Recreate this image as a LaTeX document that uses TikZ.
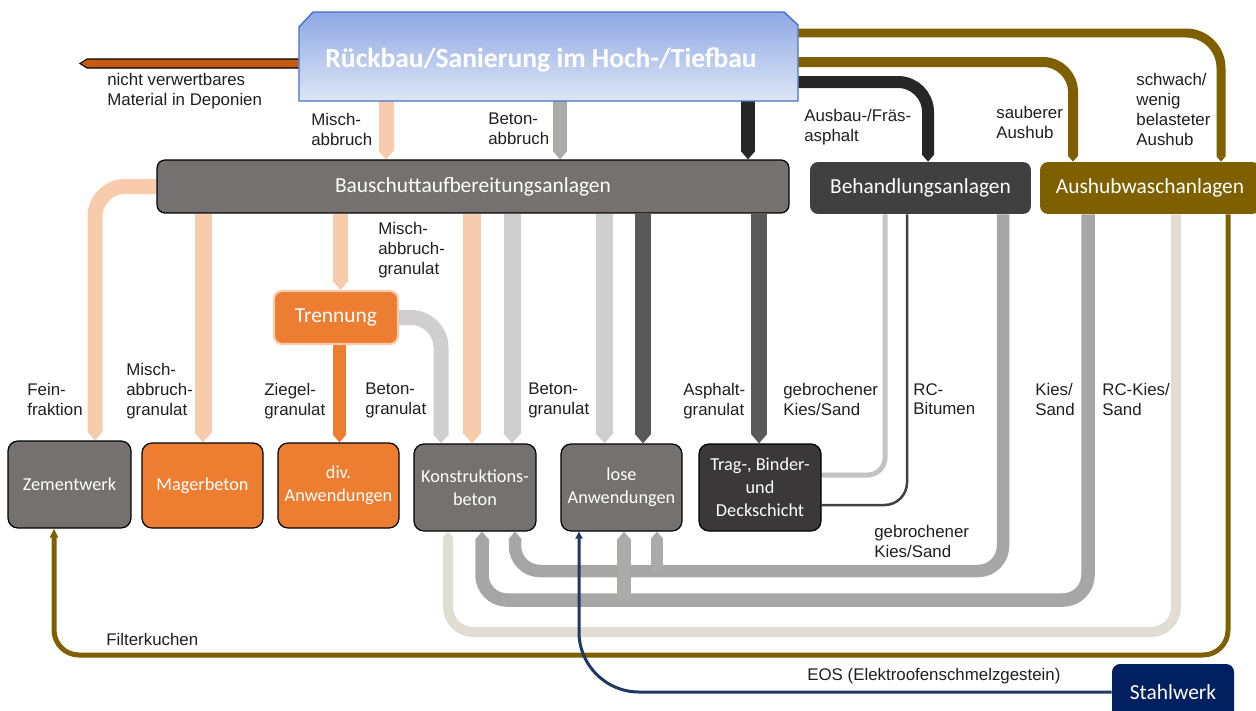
\documentclass[tikz,border=0pt]{standalone}
\usepackage{fontspec}
\setmainfont{Liberation Sans}
\newfontfamily\calfont{Carlito}
\usetikzlibrary{arrows.meta}
\definecolor{peach}{HTML}{F8CBAD}
\definecolor{orng}{HTML}{ED7D31}
\definecolor{boxgrey}{HTML}{767171}
\definecolor{lgrey}{HTML}{D0CECE}
\definecolor{mgrey}{HTML}{AEAAAA}
\definecolor{dgrey}{HTML}{595959}
\definecolor{vdark}{HTML}{262626}
\definecolor{behgrey}{HTML}{404040}
\definecolor{brwn}{HTML}{7F6000}
\definecolor{tragdark}{HTML}{3A3838}
\definecolor{navy}{HTML}{002060}
\definecolor{eosline}{HTML}{203864}
\definecolor{loopgrey}{HTML}{A6A6A6}
\definecolor{branchgrey}{HTML}{AEAAAA}
\definecolor{thinlgrey}{HTML}{C4C2C2}
\definecolor{beige}{HTML}{E2DDD3}
\definecolor{rust}{HTML}{C55A11}
\definecolor{srcborder}{HTML}{4472C4}
\definecolor{srctop}{RGB}{143,168,228}
\definecolor{srcbot}{RGB}{222,230,245}
\pgfdeclarelayer{bg}
\pgfsetlayers{bg,main}
\begin{document}
\begin{tikzpicture}[x=0.02cm, y=-0.02cm,
  lab/.style={anchor=north west, inner sep=0pt, align=left, text=black!88,
    font=\fontsize{9.6}{11.3}\selectfont},
  pipe/.style={line width=#1, -{Triangle[width=0pt 1, length=0pt 0.6]}},
  bx/.style={rounded corners=0.2cm, draw=black, line width=0.7pt, text=white,
    inner sep=0pt, align=center, font=\calfont\fontsize{10.4}{13}\selectfont},
  bigbx/.style={rounded corners=0.16cm, text=white, inner sep=0pt, align=center,
    font=\calfont\fontsize{12.2}{14}\selectfont}
]
\useasboundingbox (0,0) rectangle (1256,710);
\clip (0,0) rectangle (1256,710);

% ---------- source box ----------
\path[top color=srctop, bottom color=srcbot, draw=srcborder, line width=0.8pt]
  (299,101) -- (299,27) -- (313,12) -- (784,12) -- (798,25) -- (798,101) -- cycle;
\node[minimum width=9.98cm, minimum height=1.78cm, inner sep=0pt] (src) at (548.5,56.5) {};
\node[font=\calfont\bfseries\fontsize{15.7}{18}\selectfont, text=white, inner sep=0pt] (srct) at (541,60) {Rückbau/Sanierung im Hoch-/Tiefbau};

% ---------- boxes ----------
\node[bigbx, draw=black, line width=0.7pt, fill=boxgrey, minimum width=12.64cm, minimum height=1.06cm] (bau) at (473,186.5) {Bauschuttaufbereitungsanlagen};
\node[bigbx, fill=behgrey, minimum width=4.42cm, minimum height=1.04cm] (beh) at (920.5,188) {Behandlungsanlagen};
\node[bigbx, fill=brwn, minimum width=4.4cm, minimum height=1.04cm] (ausw) at (1150,188) {Aushubwaschanlagen};
\node[bigbx, fill=orng, draw=peach, line width=1.2pt, minimum width=2.48cm, minimum height=1.06cm] (tren) at (336,317.5) {Trennung};
\node[bx, fill=boxgrey, minimum width=2.46cm, minimum height=1.74cm] (zem) at (69.5,484.5) {Zementwerk};
\node[bx, fill=orng, minimum width=2.42cm, minimum height=1.7cm] (mag) at (202.5,485.5) {Magerbeton};
\node[bx, fill=orng, minimum width=2.42cm, minimum height=1.7cm] (div) at (338.5,485.5) {div.\\Anwendungen};
\node[bx, fill=boxgrey, minimum width=2.44cm, minimum height=1.74cm] (kon) at (475,487.5) {Konstruktions-\\beton};
\node[bx, fill=boxgrey, minimum width=2.42cm, minimum height=1.74cm] (los) at (621.5,487.5) {lose\\Anwendungen};
\node[bx, fill=tragdark, minimum width=2.44cm, minimum height=1.74cm] (trag) at (760,487.5) {Trag-, Binder-\\und\\Deckschicht};
\node[bigbx, fill=navy, minimum width=2.44cm, minimum height=1.12cm] (stahl) at (1173,692) {Stahlwerk};

\coordinate (dep) at (80,63.5);
\coordinate (j1) at (657,571);
\coordinate (j2) at (624,600);

\begin{pgfonlayer}{bg}
% to landfill
\draw[black, fill=rust, line width=0.6pt] (src.west |- 0,59) -- (87,59) -- (dep) -- (87,68) -- (src.west |- 0,68);
% from source down
\draw[pipe=0.30cm, peach] (386,0 |- src.south) -- (386,0 |- bau.north);
\draw[pipe=0.28cm, mgrey] (560,0 |- src.south) -- (560,0 |- bau.north);
\draw[pipe=0.28cm, vdark] (748,0 |- src.south) -- (748,0 |- bau.north);
% from source right
\draw[pipe=0.18cm, brwn, rounded corners=0.7cm] (src.east |- 0,33) -| (1221,0 |- ausw.north);
\draw[pipe=0.2cm, brwn, rounded corners=0.6cm] (src.east |- 0,62) -| (1073,0 |- ausw.north);
\draw[pipe=0.24cm, vdark, rounded corners=0.6cm] (src.east |- 0,82) -| (928,0 |- beh.north);
% from Bauschutt
\draw[pipe=0.30cm, peach, rounded corners=0.6cm] (bau.west) -| (95,0 |- zem.north);
\draw[pipe=0.34cm, peach] (203,0 |- bau.south) -- (203,0 |- mag.north);
\draw[pipe=0.30cm, peach] (340.5,0 |- bau.south) -- (340.5,0 |- tren.north);
\draw[pipe=0.26cm, orng] (339.5,0 |- tren.south) -- (339.5,0 |- div.north);
\draw[pipe=0.30cm, lgrey, rounded corners=0.6cm] (tren.east) -| (441,0 |- kon.north);
\draw[pipe=0.36cm, peach] (472,0 |- bau.south) -- (472,0 |- kon.north);
\draw[pipe=0.34cm, lgrey] (512,0 |- bau.south) -- (512,0 |- kon.north);
\draw[pipe=0.34cm, lgrey] (604.5,0 |- bau.south) -- (604.5,0 |- los.north);
\draw[pipe=0.32cm, dgrey] (643,0 |- bau.south) -- (643,0 |- los.north);
\draw[pipe=0.32cm, dgrey] (759,0 |- bau.south) -- (759,0 |- trag.north);
% from Behandlungsanlagen
\draw[line width=0.1cm, thinlgrey, rounded corners=0.35cm] (885,0 |- beh.south) |- (trag.east |- 0,475);
\draw[line width=0.05cm, behgrey, rounded corners=0.45cm] (907,0 |- beh.south) |- (trag.east |- 0,505);
\draw[pipe=0.25cm, loopgrey, rounded corners=0.5cm] (1003,0 |- beh.south) |- (515,571) -- (515,0 |- kon.south);
\draw[pipe=0.25cm, branchgrey] (j1) -- (657,0 |- los.south);
% from Aushubwaschanlagen
\draw[pipe=0.27cm, loopgrey, rounded corners=0.5cm] (1088,0 |- ausw.south) |- (482,600) -- (482,0 |- kon.south);
\draw[pipe=0.27cm, branchgrey] (j2) -- (624,0 |- los.south);
\draw[pipe=0.2cm, beige, rounded corners=0.5cm] (1176,0 |- ausw.south) |- (448,632) -- (448,0 |- kon.south);
\draw[line width=0.1cm, brwn, -{Triangle[width=0.16cm, length=0.18cm]}, rounded corners=0.5cm] (1228,0 |- ausw.south) |- (54,655) -- (54,0 |- zem.south);
% EOS
\draw[line width=0.06cm, eosline, -{Triangle[width=0.14cm, length=0.14cm]}, rounded corners=1.2cm] (stahl.west) -| (579,0 |- los.south);
\end{pgfonlayer}

% ---------- labels ----------
\node[lab] (l1) at (107,73) {nicht verwertbares\\Material in Deponien};
\node[lab] (l2) at (311,113) {Misch-\\abbruch};
\node[lab] (l3) at (488,113) {Beton-\\abbruch};
\node[lab] (l4) at (804,109) {Ausbau-/Fräs-\\asphalt};
\node[lab] (l5) at (996,106) {sauberer\\Aushub};
\node[lab] (l6) at (1136,73) {schwach/\\wenig\\belasteter\\Aushub};
\node[lab] (l7) at (378,222) {Misch-\\abbruch-\\granulat};
\node[lab] (l8) at (27,383) {Fein-\\fraktion};
\node[lab] (l9) at (126,363) {Misch-\\abbruch-\\granulat};
\node[lab] (l10) at (264,383) {Ziegel-\\granulat};
\node[lab] (l11) at (365,383) {Beton-\\granulat};
\node[lab] (l12) at (528,383) {Beton-\\granulat};
\node[lab] (l13) at (683,383) {Asphalt-\\granulat};
\node[lab] (l14) at (783,383) {gebrochener\\Kies/Sand};
\node[lab] (l15) at (913,383) {RC-\\Bitumen};
\node[lab] (l16) at (1035,383) {Kies/\\Sand};
\node[lab] (l17) at (1102,383) {RC-Kies/\\Sand};
\node[lab] (l18) at (874,525) {gebrochener\\Kies/Sand};
\node[lab] (l19) at (106,633) {Filterkuchen};
\node[lab] (l20) at (807,668) {EOS (Elektroofenschmelzgestein)};
\end{tikzpicture}
\end{document}
